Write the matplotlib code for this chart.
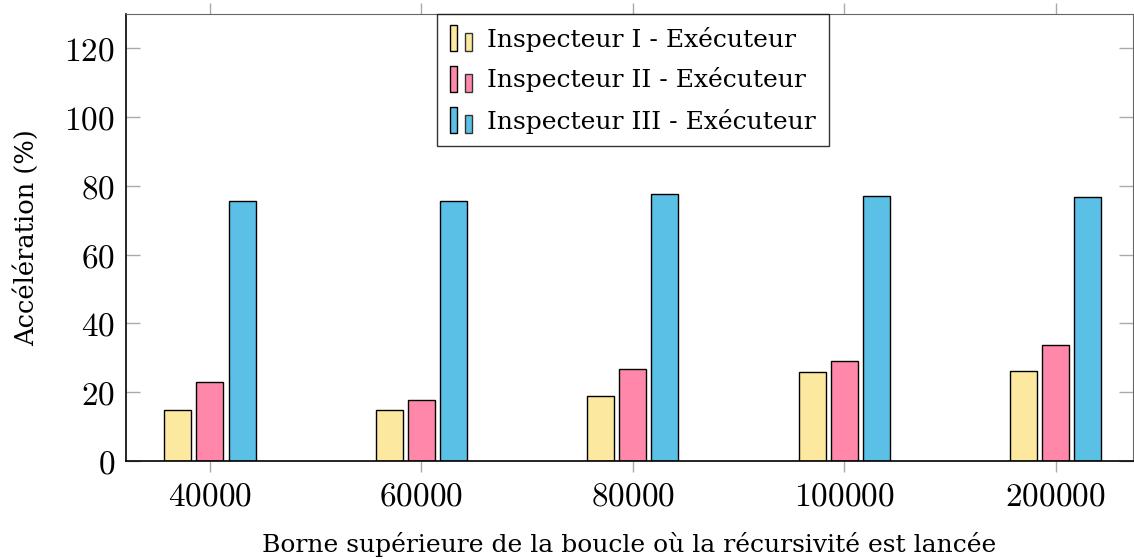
import numpy as np
import matplotlib.pyplot as plt
from matplotlib.legend_handler import HandlerBase
from matplotlib.patches import Rectangle

plt.rcParams['font.family'] = 'DejaVu Serif'
plt.rcParams['mathtext.fontset'] = 'cm'

bornes = ['40000', '60000', '80000', '100000', '200000']
insp1 = [14.9, 14.8, 19.0, 25.9, 26.3]
insp2 = [23.1, 17.8, 26.9, 29.2, 33.7]
insp3 = [75.6, 75.6, 77.6, 77.0, 76.8]
noms = ['Inspecteur I - Exécuteur', 'Inspecteur II - Exécuteur', 'Inspecteur III - Exécuteur']
couleurs = ['#FDE8A0', '#FF88AA', '#5BC0E5']


class DeuxBarres(HandlerBase):
    # petite icone a deux barres comme dans pgfplots
    def create_artists(self, legend, orig, xd, yd, width, height, fontsize, trans):
        fc = orig.get_facecolor()
        w = width * 0.3
        r1 = Rectangle((-xd, -yd - height * 0.25), w, height * 1.5, fc=fc, ec='black', lw=1, transform=trans)
        r2 = Rectangle((-xd + width * 0.6, -yd - height * 0.25), w, height * 1.05, fc=fc, ec='#333333', lw=1, transform=trans)
        return [r1, r2]


fig = plt.figure(figsize=(11.34, 5.59), dpi=100)
ax = fig.add_axes([126 / 1134, 98 / 559, 1007 / 1134, 447 / 559])

x = np.arange(len(bornes))
w = 0.128
dx = 0.152
barres = []
for k, (vals, c, n) in enumerate(zip([insp1, insp2, insp3], couleurs, noms)):
    b = ax.bar(x + (k - 1) * dx, vals, w, color=c, edgecolor='black', linewidth=1, label=n)
    barres.append(b)

ax.set_xlim(-0.397, 4.366)
ax.set_ylim(0, 130)
ax.set_xticks(x)
ax.set_xticklabels(['$' + b + '$' for b in bornes], fontsize=24)
ax.set_yticks(np.arange(0, 121, 20))
ax.set_yticklabels(['$%d$' % v for v in range(0, 121, 20)], fontsize=24)
ax.tick_params(axis='x', direction='out', length=8, width=1, color='#aaaaaa', top=True, pad=6)
ax.tick_params(axis='y', direction='in', length=10, width=1, color='#aaaaaa', right=True, pad=8)
for s in ['top', 'right']:
    ax.spines[s].set_color('#666666')
ax.spines['left'].set_linewidth(1.2)
ax.spines['bottom'].set_linewidth(1.2)

ax.set_xlabel('Borne supérieure de la boucle où la récursivité est lancée', fontsize=18, labelpad=14)
ax.set_ylabel('Accélération (%)', fontsize=18.5, labelpad=18)

leg = ax.legend(handles=[b[0] for b in barres], labels=noms, loc='upper center',
                bbox_to_anchor=(0.5035, 1.0), borderaxespad=0, fontsize=18, frameon=True, fancybox=False,
                edgecolor='black', handler_map={Rectangle: DeuxBarres()},
                handlelength=1.0, handletextpad=0.5, labelspacing=0.64, borderpad=0.5)
leg.get_frame().set_linewidth(1)

fig.savefig('out.png', dpi=100)
